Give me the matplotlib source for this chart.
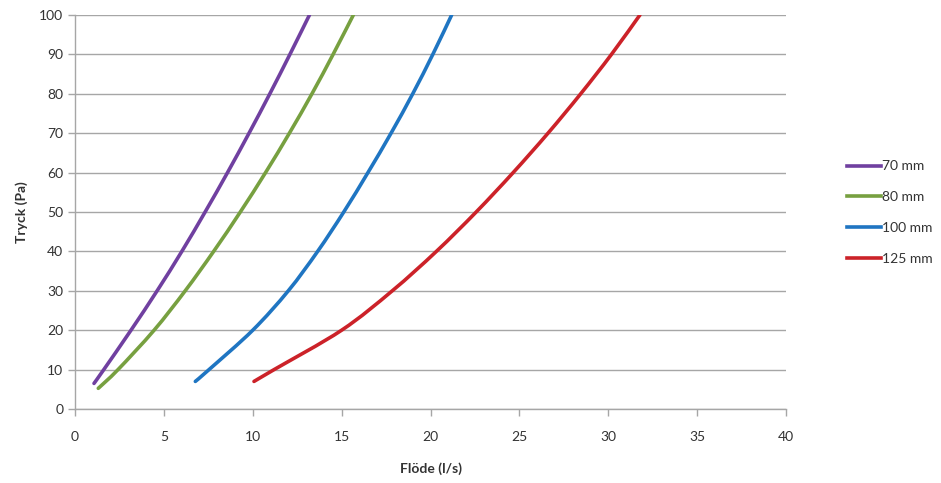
import matplotlib
matplotlib.use('Agg')
import matplotlib.pyplot as plt
from matplotlib.path import Path
from matplotlib.patches import PathPatch
from matplotlib.lines import Line2D

# values
flow_70 = [1.07, 1.62, 3.15, 4.62, 6.01, 7.32, 8.58, 9.79, 10.96, 12.09, 13.19]
tryck_70 = [6.5, 10, 20, 30, 40, 50, 60, 70, 80, 90, 100]

flow_80 = [1.31, 2.42, 4.45, 6.20, 7.80, 9.30, 10.72, 12.06, 13.33, 14.52, 15.66]
tryck_80 = [5.25, 10, 20, 30, 40, 50, 60, 70, 80, 90, 100]

flow_100 = [6.77, 7.54, 10.0, 12.0, 13.65, 15.12, 16.48, 17.78, 19.0, 20.13, 21.19]
tryck_100 = [7.0, 10, 20, 30, 40, 50, 60, 70, 80, 90, 100]

flow_125 = [10.07, 11.2, 15.0, 17.85, 20.33, 22.57, 24.65, 26.61, 28.45, 30.18, 31.78]
tryck_125 = [7.0, 10, 20, 30, 40, 50, 60, 70, 80, 90, 100]

labels = ['70 mm', '80 mm', '100 mm', '125 mm']
colors = ['#7040A0', '#77A040', '#1F75C2', '#CC2229']

plt.rcParams['font.family'] = ['Lato', 'DejaVu Sans']
txt = '#333333'
grid = '#A6A6A6'
lw = 2.6


def smooth_path(xs, ys):
    # Excel-like smoothed line: cubic bezier through the read points
    pts = list(zip(xs, ys))
    n = len(pts)
    verts = [pts[0]]
    codes = [Path.MOVETO]
    for i in range(n - 1):
        p0 = pts[max(i - 1, 0)]
        p1 = pts[i]
        p2 = pts[i + 1]
        p3 = pts[min(i + 2, n - 1)]
        c1 = (p1[0] + (p2[0] - p0[0]) / 6, p1[1] + (p2[1] - p0[1]) / 6)
        c2 = (p2[0] - (p3[0] - p1[0]) / 6, p2[1] - (p3[1] - p1[1]) / 6)
        verts += [c1, c2, p2]
        codes += [Path.CURVE4] * 3
    return Path(verts, codes)


fig = plt.figure(figsize=(9.41, 4.83), dpi=100)
ax = fig.add_axes([0.0797, 0.1532, 0.7556, 0.8158])

series = [(flow_70, tryck_70), (flow_80, tryck_80), (flow_100, tryck_100), (flow_125, tryck_125)]
handles = []
for (x, y), lab, c in zip(series, labels, colors):
    ax.add_patch(PathPatch(smooth_path(x, y), fill=False, edgecolor=c, lw=lw,
                           capstyle='round', joinstyle='round', zorder=3))
    handles.append(Line2D([], [], color=c, lw=lw, label=lab))

ax.set_xlim(0, 40)
ax.set_ylim(0, 100)
ax.set_xticks(range(0, 41, 5))
ax.set_yticks(range(0, 101, 10))
ax.yaxis.grid(True, color=grid, lw=1)
ax.set_axisbelow(True)
for s in ['top', 'right']:
    ax.spines[s].set_visible(False)
for s in ['left', 'bottom']:
    ax.spines[s].set_color(grid)
    ax.spines[s].set_linewidth(1)
ax.tick_params(axis='both', colors=grid, length=5, width=1, labelcolor=txt, labelsize=10)
ax.tick_params(axis='x', pad=11)

ax.set_xlabel('Flöde (l/s)', fontsize=10, fontweight='bold', color=txt, labelpad=14)
ax.set_ylabel('Tryck (Pa)', fontsize=10, fontweight='bold', color=txt, labelpad=8)

ax.legend(handles=handles, loc='center left', bbox_to_anchor=(0.887, 0.56),
          bbox_transform=fig.transFigure, frameon=False, handlelength=2.4,
          handletextpad=0.1, labelspacing=1.35, fontsize=10, labelcolor=txt)

fig.savefig('out.png', dpi=100)
